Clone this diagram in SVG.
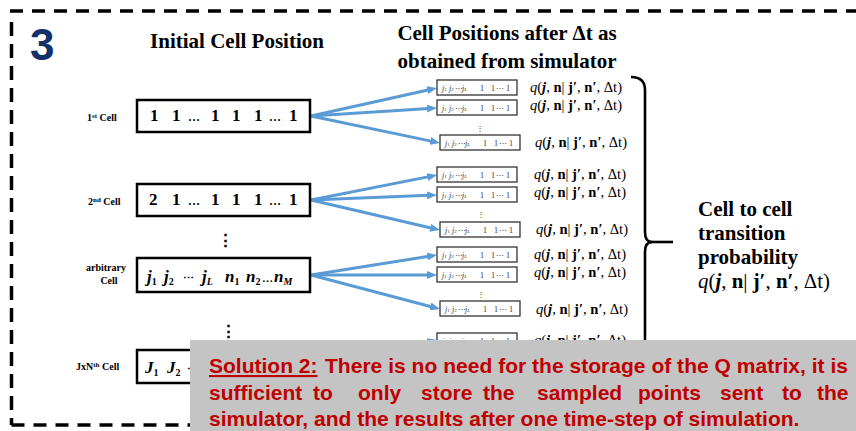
<svg xmlns="http://www.w3.org/2000/svg" width="856" height="431" viewBox="0 0 856 431">
<defs>
<style>
.hd{font-family:"Liberation Serif",serif;font-weight:bold;font-size:21px}
.lab{font-family:"Liberation Serif",serif;font-weight:bold;font-size:10px}
.big{font-family:"Liberation Serif",serif;font-weight:bold;font-size:17px}
.bigi{font-family:"Liberation Serif",serif;font-weight:bold;font-style:italic;font-size:17px}
.sb{font-size:10px;font-style:normal}
.sbi{font-size:10px;font-style:italic}
.dt{font-size:11px;font-style:normal}
.sm{font-family:"Liberation Serif",serif;font-size:8px;fill:#333}
.q{font-family:"Liberation Serif",serif;font-size:15px}
.qb{font-family:"Liberation Serif",serif;font-size:21px}
.i{font-style:italic}
.bi{font-style:italic;font-weight:bold}
.b{font-weight:bold}
.box{fill:#fff;stroke:#000;stroke-width:2.5}
.sbox{fill:#fff;stroke:#333;stroke-width:1.3}
.arr{stroke:#5b9bd5;stroke-width:3;fill:none;marker-end:url(#ah)}
.dash{fill:none;stroke:#000;stroke-width:3.5;stroke-dasharray:13 9}
.red{font-family:"Liberation Sans",Arial,sans-serif;font-weight:bold;font-size:21px;fill:#c00000}
</style>
<marker id="ah" markerUnits="userSpaceOnUse" markerWidth="10" markerHeight="8" refX="2" refY="4" orient="auto">
<path d="M0,0 L10,4 L0,8 z" fill="#5b9bd5"/>
</marker>
</defs>
<rect width="856" height="431" fill="#fff"/>

<!-- dashed frame -->
<path class="dash" d="M10,11 L856,11"/>
<path class="dash" d="M11.5,22 L11.5,425" style="stroke-dasharray:14 8"/>
<path class="dash" d="M11.5,425 L190,425"/>

<text x="30" y="60" style="font-family:'Liberation Sans',Arial,sans-serif;font-weight:bold;font-size:44px;fill:#12306a">3</text>

<text class="hd" x="237" y="48" text-anchor="middle">Initial Cell Position</text>
<text class="hd" x="507" y="40" text-anchor="middle">Cell Positions after Δt as</text>
<text class="hd" x="507" y="68" text-anchor="middle">obtained from simulator</text>

<!-- connectors -->
<g id="connectors">
<path class="arr" d="M311,116 L429.2,89.7"/>
<path class="arr" d="M311,116 L429,108.5"/>
<path class="arr" d="M311,116 L432.2,141.4"/>
<path class="arr" d="M311,200 L429.2,176.6"/>
<path class="arr" d="M311,200 L429,195.3"/>
<path class="arr" d="M311,200 L432.2,228.2"/>
<path class="arr" d="M311,275 L429.1,256.3"/>
<path class="arr" d="M311,275 L429,275"/>
<path class="arr" d="M311,275 L432.3,307"/>
<path class="arr" d="M311,366 L429.2,341.6"/>
</g>

<!-- initial cells -->
<g id="cell1">
<text class="lab" x="87" y="121">1<tspan font-size="7" dy="-3">st</tspan><tspan dy="3"> Cell</tspan></text>
<rect class="box" x="137" y="100" width="173" height="32"/>
<text class="big" y="121"><tspan x="150">1</tspan><tspan x="172">1</tspan><tspan x="188" font-size="12">…</tspan><tspan x="211">1</tspan><tspan x="232">1</tspan><tspan x="254">1</tspan><tspan x="269" font-size="12">…</tspan><tspan x="289">1</tspan></text>
</g>
<g id="cell2">
<text class="lab" x="88" y="205">2<tspan font-size="7" dy="-3">nd</tspan><tspan dy="3">  Cell</tspan></text>
<rect class="box" x="137" y="184" width="173" height="32"/>
<text class="big" y="205"><tspan x="149">2</tspan><tspan x="172">1</tspan><tspan x="188" font-size="12">…</tspan><tspan x="211">1</tspan><tspan x="232">1</tspan><tspan x="254">1</tspan><tspan x="269" font-size="12">…</tspan><tspan x="289">1</tspan></text>
</g>
<text class="big" x="217" y="246" font-size="16">⋮</text>
<g id="cellArb">
<text class="lab" x="106" y="271" text-anchor="middle">arbitrary</text>
<text class="lab" x="109" y="284" text-anchor="middle">Cell</text>
<rect class="box" x="137" y="258" width="173" height="34"/>
<text class="bigi" y="282"><tspan x="147">j</tspan><tspan class="sb" dy="3">1</tspan><tspan x="164" dy="-3">j</tspan><tspan class="sb" dy="3">2</tspan><tspan x="183" dy="-3" class="dt">⋯</tspan><tspan x="202">j</tspan><tspan class="sbi" dy="3">L</tspan><tspan x="225" dy="-3">n</tspan><tspan class="sb" dy="3">1</tspan><tspan x="246" dy="-3">n</tspan><tspan class="sb" dy="3">2</tspan><tspan x="262" dy="-3" class="dt">…</tspan><tspan x="274">n</tspan><tspan class="sbi" dy="3">M</tspan></text>
</g>
<text class="big" x="220" y="337" font-size="16">⋮</text>
<g id="cellJN">
<text class="lab" x="76" y="370">JxN<tspan font-size="7" dy="-3">th</tspan><tspan dy="3"> Cell</tspan></text>
<rect class="box" x="137" y="350" width="173" height="33"/>
<text class="bigi" y="373"><tspan x="145">J</tspan><tspan class="sb" dy="3">1</tspan><tspan x="167" dy="-3">J</tspan><tspan class="sb" dy="3">2</tspan><tspan x="187" dy="-3" class="dt">⋯</tspan></text>
</g>

<!-- output boxes -->
<g id="o11" transform="translate(437,80)"><rect class="sbox" width="80" height="15"/><text class="sm" y="10.5"><tspan x="5" class="i">j</tspan><tspan font-size="5">1</tspan><tspan x="12" class="i">j</tspan><tspan font-size="5">2</tspan><tspan x="18">⋯</tspan><tspan x="25" class="i">j</tspan><tspan font-size="5" class="i">L</tspan><tspan x="43">1</tspan><tspan x="54">1</tspan><tspan x="59">⋯</tspan><tspan x="69">1</tspan></text></g>
<g id="o12" transform="translate(437,100)"><rect class="sbox" width="80" height="15"/><text class="sm" y="10.5"><tspan x="5" class="i">j</tspan><tspan font-size="5">1</tspan><tspan x="12" class="i">j</tspan><tspan font-size="5">2</tspan><tspan x="18">⋯</tspan><tspan x="25" class="i">j</tspan><tspan font-size="5" class="i">L</tspan><tspan x="43">1</tspan><tspan x="54">1</tspan><tspan x="59">⋯</tspan><tspan x="69">1</tspan></text></g>
<text class="sm" x="476" y="131" font-size="10" fill="#000">⋮</text>
<g id="o13" transform="translate(440,135)"><rect class="sbox" width="80" height="15"/><text class="sm" y="10.5"><tspan x="5" class="i">j</tspan><tspan font-size="5">1</tspan><tspan x="12" class="i">j</tspan><tspan font-size="5">2</tspan><tspan x="18">⋯</tspan><tspan x="25" class="i">j</tspan><tspan font-size="5" class="i">L</tspan><tspan x="43">1</tspan><tspan x="54">1</tspan><tspan x="59">⋯</tspan><tspan x="69">1</tspan></text></g>

<g id="o21" transform="translate(437,167)"><rect class="sbox" width="80" height="15"/><text class="sm" y="10.5"><tspan x="5" class="i">j</tspan><tspan font-size="5">1</tspan><tspan x="12" class="i">j</tspan><tspan font-size="5">2</tspan><tspan x="18">⋯</tspan><tspan x="25" class="i">j</tspan><tspan font-size="5" class="i">L</tspan><tspan x="43">1</tspan><tspan x="54">1</tspan><tspan x="59">⋯</tspan><tspan x="69">1</tspan></text></g>
<g id="o22" transform="translate(437,187)"><rect class="sbox" width="80" height="15"/><text class="sm" y="10.5"><tspan x="5" class="i">j</tspan><tspan font-size="5">1</tspan><tspan x="12" class="i">j</tspan><tspan font-size="5">2</tspan><tspan x="18">⋯</tspan><tspan x="25" class="i">j</tspan><tspan font-size="5" class="i">L</tspan><tspan x="43">1</tspan><tspan x="54">1</tspan><tspan x="59">⋯</tspan><tspan x="69">1</tspan></text></g>
<text class="sm" x="477" y="217" font-size="10" fill="#000">⋮</text>
<g id="o23" transform="translate(440,222)"><rect class="sbox" width="80" height="15"/><text class="sm" y="10.5"><tspan x="5" class="i">j</tspan><tspan font-size="5">1</tspan><tspan x="12" class="i">j</tspan><tspan font-size="5">2</tspan><tspan x="18">⋯</tspan><tspan x="25" class="i">j</tspan><tspan font-size="5" class="i">L</tspan><tspan x="43">1</tspan><tspan x="54">1</tspan><tspan x="59">⋯</tspan><tspan x="69">1</tspan></text></g>

<g id="o31" transform="translate(437,247)"><rect class="sbox" width="80" height="15"/><text class="sm" y="10.5"><tspan x="5" class="i">j</tspan><tspan font-size="5">1</tspan><tspan x="12" class="i">j</tspan><tspan font-size="5">2</tspan><tspan x="18">⋯</tspan><tspan x="25" class="i">j</tspan><tspan font-size="5" class="i">L</tspan><tspan x="43">1</tspan><tspan x="54">1</tspan><tspan x="59">⋯</tspan><tspan x="69">1</tspan></text></g>
<g id="o32" transform="translate(437,267)"><rect class="sbox" width="80" height="15"/><text class="sm" y="10.5"><tspan x="5" class="i">j</tspan><tspan font-size="5">1</tspan><tspan x="12" class="i">j</tspan><tspan font-size="5">2</tspan><tspan x="18">⋯</tspan><tspan x="25" class="i">j</tspan><tspan font-size="5" class="i">L</tspan><tspan x="43">1</tspan><tspan x="54">1</tspan><tspan x="59">⋯</tspan><tspan x="69">1</tspan></text></g>
<text class="sm" x="477" y="297" font-size="10" fill="#000">⋮</text>
<g id="o33" transform="translate(440,301)"><rect class="sbox" width="80" height="15"/><text class="sm" y="10.5"><tspan x="5" class="i">j</tspan><tspan font-size="5">1</tspan><tspan x="12" class="i">j</tspan><tspan font-size="5">2</tspan><tspan x="18">⋯</tspan><tspan x="25" class="i">j</tspan><tspan font-size="5" class="i">L</tspan><tspan x="43">1</tspan><tspan x="54">1</tspan><tspan x="59">⋯</tspan><tspan x="69">1</tspan></text></g>

<g id="o41" transform="translate(437,333)"><rect class="sbox" width="80" height="15"/><text class="sm" y="10.5"><tspan x="5" class="i">j</tspan><tspan font-size="5">1</tspan><tspan x="12" class="i">j</tspan><tspan font-size="5">2</tspan><tspan x="18">⋯</tspan><tspan x="25" class="i">j</tspan><tspan font-size="5" class="i">L</tspan><tspan x="43">1</tspan><tspan x="54">1</tspan><tspan x="59">⋯</tspan><tspan x="69">1</tspan></text></g>

<!-- q labels -->
<g id="qlabels">
<text class="q" x="530" y="92" textLength="92" lengthAdjust="spacingAndGlyphs"><tspan class="i">q</tspan>(<tspan class="bi">j</tspan>, <tspan class="b">n</tspan>| <tspan class="b">j′</tspan>, <tspan class="b">n′</tspan>, Δt)</text>
<text class="q" x="530" y="110" textLength="92" lengthAdjust="spacingAndGlyphs"><tspan class="i">q</tspan>(<tspan class="bi">j</tspan>, <tspan class="b">n</tspan>| <tspan class="b">j′</tspan>, <tspan class="b">n′</tspan>, Δt)</text>
<text class="q" x="535" y="147" textLength="92" lengthAdjust="spacingAndGlyphs"><tspan class="i">q</tspan>(<tspan class="bi">j</tspan>, <tspan class="b">n</tspan>| <tspan class="b">j′</tspan>, <tspan class="b">n′</tspan>, Δt)</text>
<text class="q" x="534" y="179" textLength="92" lengthAdjust="spacingAndGlyphs"><tspan class="i">q</tspan>(<tspan class="bi">j</tspan>, <tspan class="b">n</tspan>| <tspan class="b">j′</tspan>, <tspan class="b">n′</tspan>, Δt)</text>
<text class="q" x="534" y="197" textLength="92" lengthAdjust="spacingAndGlyphs"><tspan class="i">q</tspan>(<tspan class="bi">j</tspan>, <tspan class="b">n</tspan>| <tspan class="b">j′</tspan>, <tspan class="b">n′</tspan>, Δt)</text>
<text class="q" x="536" y="234" textLength="92" lengthAdjust="spacingAndGlyphs"><tspan class="i">q</tspan>(<tspan class="bi">j</tspan>, <tspan class="b">n</tspan>| <tspan class="b">j′</tspan>, <tspan class="b">n′</tspan>, Δt)</text>
<text class="q" x="534" y="259" textLength="92" lengthAdjust="spacingAndGlyphs"><tspan class="i">q</tspan>(<tspan class="bi">j</tspan>, <tspan class="b">n</tspan>| <tspan class="b">j′</tspan>, <tspan class="b">n′</tspan>, Δt)</text>
<text class="q" x="534" y="277" textLength="92" lengthAdjust="spacingAndGlyphs"><tspan class="i">q</tspan>(<tspan class="bi">j</tspan>, <tspan class="b">n</tspan>| <tspan class="b">j′</tspan>, <tspan class="b">n′</tspan>, Δt)</text>
<text class="q" x="536" y="314" textLength="92" lengthAdjust="spacingAndGlyphs"><tspan class="i">q</tspan>(<tspan class="bi">j</tspan>, <tspan class="b">n</tspan>| <tspan class="b">j′</tspan>, <tspan class="b">n′</tspan>, Δt)</text>
<text class="q" x="534" y="345" textLength="92" lengthAdjust="spacingAndGlyphs"><tspan class="i">q</tspan>(<tspan class="bi">j</tspan>, <tspan class="b">n</tspan>| <tspan class="b">j′</tspan>, <tspan class="b">n′</tspan>, Δt)</text>
</g>

<!-- brace -->
<g id="brace">
<path d="M631,77 Q645,77 645,90 L645,232 Q645,242 652,242 Q645,242 645,252 L645,394 Q645,407 631,407" fill="none" stroke="#000" stroke-width="2.6"/>
<path d="M650,242 L673,242" stroke="#000" stroke-width="2.6"/>
</g>
<g id="prob">
<text class="hd" font-size="20.5" x="698" y="216">Cell to cell</text>
<text class="hd" font-size="20.5" x="698" y="240">transition</text>
<text class="hd" font-size="20.5" x="698" y="264">probability</text>
<text class="qb" x="698" y="288" textLength="132" lengthAdjust="spacingAndGlyphs"><tspan class="i">q</tspan>(<tspan class="bi">j</tspan>, <tspan class="b">n</tspan>| <tspan class="b">j′</tspan>, <tspan class="b">n′</tspan>, Δt)</text>
</g>

<!-- solution note -->
<g id="note">
<rect x="190" y="340" width="666" height="91" fill="#c4c4c4"/>
<text class="red" x="209" y="373" text-decoration="underline">Solution 2:</text>
<text class="red" x="325" y="373" textLength="523" lengthAdjust="spacing">There is no need for the storage of the Q matrix, it is</text>
<text class="red" y="400"><tspan x="209">sufficient</tspan><tspan x="313">to</tspan><tspan x="358">only</tspan><tspan x="421">store</tspan><tspan x="483">the</tspan><tspan x="537">sampled</tspan><tspan x="638">points</tspan><tspan x="720">sent</tspan><tspan x="782">to</tspan><tspan x="817">the</tspan></text>
<text class="red" x="209" y="426">simulator, and the results after one time-step of simulation.</text>
</g>
</svg>
